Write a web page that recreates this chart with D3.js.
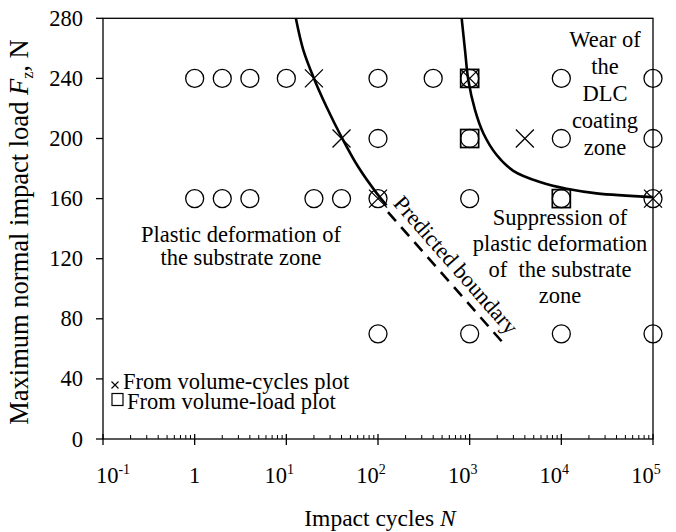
<!DOCTYPE html>
<html>
<head>
<meta charset="utf-8">
<script src="https://cdn.jsdelivr.net/npm/d3@7"></script>
<style>
  body { margin: 0; background: #fff; }
  svg { display: block; }
  text { font-family: "Liberation Serif", "Times New Roman", serif; fill: #000; }
</style>
</head>
<body>
<div id="chart"></div>
<script>
// ---- data ----
const xTickExps = [-1, 0, 1, 2, 3, 4, 5];
const yTicks = [0, 40, 80, 120, 160, 200, 240, 280];

// test points [impact cycles N, load Fz]
const circlePoints = [
  [1, 240], [2, 240], [4, 240], [10, 240], [100, 240], [400, 240], [1000, 240], [1e4, 240], [1e5, 240],
  [100, 200], [1000, 200], [1e4, 200], [1e5, 200],
  [1, 160], [2, 160], [4, 160], [20, 160], [40, 160], [100, 160], [1000, 160], [1e4, 160], [1e5, 160],
  [100, 70], [1000, 70], [1e4, 70], [1e5, 70]
];
const crossPoints = [[20, 240], [40, 200], [100, 160], [1000, 240], [4000, 200], [1e5, 160]];
const squarePoints = [[1000, 240], [1000, 200], [1e4, 160]];

// boundaries
const plasticBoundary = [[12.7, 280], [15.3, 259], [20, 240], [27.5, 221], [40, 201], [61, 181], [97, 163.5], [124, 155.5]];
const wearBoundary = [[818, 280], [889, 259], [966, 239], [1143, 219], [1409, 203.5], [1972, 189], [2992, 178.5], [5848, 171], [11430, 166.5], [24270, 163.5], [1e5, 161]];
const predictedBoundary = [[128.5, 151], [2427, 62.5]];

const plasticZone = ["Plastic deformation of", "the substrate zone"];
const wearZone = ["Wear of", "the", "DLC", "coating", "zone"];
const suppressionZone = ["Suppression of", "plastic deformation", "of  the substrate", "zone"];
const legendItems = ["From volume-cycles plot", "From volume-load plot"];

// ---- layout ----
const width = 676, height = 532;
const svg = d3.select("#chart").append("svg")
    .attr("width", width)
    .attr("height", height);

const x = d3.scaleLog().domain([0.1, 1e5]).range([103, 653]);
const y = d3.scaleLinear().domain([0, 280]).range([439, 18.3]);
const x0 = x.range()[0], x1 = x.range()[1];
const y0 = y.range()[0], y1 = y.range()[1];

// frame
svg.append("rect")
    .attr("x", x0).attr("y", y1)
    .attr("width", x1 - x0).attr("height", y0 - y1)
    .attr("fill", "none")
    .attr("stroke", "#000")
    .attr("stroke-width", 1.3);

// y ticks + labels
const yAxis = svg.append("g");
yAxis.selectAll("line")
    .data(yTicks)
    .join("line")
    .attr("x1", x0 - 7).attr("x2", x0)
    .attr("y1", d => y(d)).attr("y2", d => y(d))
    .attr("stroke", "#000").attr("stroke-width", 1.3);
yAxis.selectAll("text")
    .data(yTicks)
    .join("text")
    .attr("x", x0 - 20)
    .attr("y", d => y(d) + 7.5)
    .attr("text-anchor", "end")
    .style("font-size", "22.5px")
    .text(d => d);

// x ticks: majors cross the axis, minors inside
const minorTicks = [];
xTickExps.slice(0, -1).forEach(e => {
    for (let k = 2; k <= 9; k++) minorTicks.push(k * Math.pow(10, e));
});
const xAxis = svg.append("g");
xAxis.selectAll("line.major")
    .data(xTickExps)
    .join("line")
    .attr("class", "major")
    .attr("x1", d => x(Math.pow(10, d))).attr("x2", d => x(Math.pow(10, d)))
    .attr("y1", y0 - 5).attr("y2", y0 + 6)
    .attr("stroke", "#000").attr("stroke-width", 1.3);
xAxis.selectAll("line.minor")
    .data(minorTicks)
    .join("line")
    .attr("class", "minor")
    .attr("x1", d => x(d)).attr("x2", d => x(d))
    .attr("y1", y0 - 4).attr("y2", y0)
    .attr("stroke", "#000").attr("stroke-width", 1);

const xLabels = xAxis.selectAll("text")
    .data(xTickExps)
    .join("text")
    .attr("x", d => x(Math.pow(10, d)) + (d === 0 ? 0 : d < 0 ? 10 : -7))
    .attr("y", 483)
    .attr("text-anchor", "middle")
    .style("font-size", "22.5px");
xLabels.each(function (d) {
    const t = d3.select(this);
    if (d === 0) { t.text("1"); return; }
    t.append("tspan").text("10");
    t.append("tspan").attr("dy", -9).style("font-size", "14px").text(d);
});

// axis titles
svg.append("text")
    .attr("x", (x0 + x1) / 2 + 2)
    .attr("y", 526)
    .attr("text-anchor", "middle")
    .style("font-size", "23.5px")
    .call(t => {
        t.append("tspan").text("Impact cycles ");
        t.append("tspan").style("font-style", "italic").text("N");
    });

svg.append("text")
    .attr("transform", "translate(28,232) rotate(-90)")
    .attr("text-anchor", "middle")
    .style("font-size", "26.5px")
    .call(t => {
        t.append("tspan").text("Maximum normal impact load ");
        t.append("tspan").style("font-style", "italic").text("F");
        t.append("tspan").attr("dy", 5).style("font-size", "16px").text("z");
        t.append("tspan").attr("dy", -5).text(", N");
    });

// boundaries
const line = d3.line()
    .x(d => x(d[0]))
    .y(d => y(d[1]))
    .curve(d3.curveCatmullRom.alpha(0.5));

svg.append("path")
    .datum(plasticBoundary)
    .attr("d", line)
    .attr("fill", "none").attr("stroke", "#000").attr("stroke-width", 2.6);
svg.append("path")
    .datum(wearBoundary)
    .attr("d", line)
    .attr("fill", "none").attr("stroke", "#000").attr("stroke-width", 2.6);
svg.append("path")
    .datum(predictedBoundary)
    .attr("d", d3.line().x(d => x(d[0])).y(d => y(d[1])))
    .attr("fill", "none").attr("stroke", "#000").attr("stroke-width", 2.6)
    .attr("stroke-dasharray", "12,8");

// markers
svg.append("g")
    .selectAll("circle")
    .data(circlePoints)
    .join("circle")
    .attr("cx", d => x(d[0])).attr("cy", d => y(d[1]))
    .attr("r", 9)
    .attr("fill", "none").attr("stroke", "#000").attr("stroke-width", 1.3);

svg.append("g")
    .selectAll("rect")
    .data(squarePoints)
    .join("rect")
    .attr("x", d => x(d[0]) - 9).attr("y", d => y(d[1]) - 9)
    .attr("width", 18).attr("height", 18)
    .attr("fill", "none").attr("stroke", "#000").attr("stroke-width", 1.7);

svg.append("g")
    .selectAll("path")
    .data(crossPoints)
    .join("path")
    .attr("transform", d => `translate(${x(d[0])},${y(d[1])})`)
    .attr("d", "M-9,-9L9,9M-9,9L9,-9")
    .attr("fill", "none").attr("stroke", "#000").attr("stroke-width", 1.3);

// zone labels
function block(lines, cx, top, step) {
    svg.append("g").selectAll("text")
        .data(lines)
        .join("text")
        .attr("x", cx)
        .attr("y", (d, i) => top + i * step)
        .attr("text-anchor", "middle")
        .style("font-size", "22.5px")
        .style("white-space", "pre")
        .text(d => d);
}
block(plasticZone, 241, 242, 23);
block(wearZone, 605, 47, 27);
block(suppressionZone, 560, 225, 26);

// rotated label along the dashed line
const pa = [x(predictedBoundary[0][0]), y(predictedBoundary[0][1])];
const pb = [x(predictedBoundary[1][0]), y(predictedBoundary[1][1])];
const ang = Math.atan2(pb[1] - pa[1], pb[0] - pa[0]);
const ux = Math.cos(ang), uy = Math.sin(ang);
const mx = (pa[0] + pb[0]) / 2 - 4 * ux + 8.5 * uy;
const my = (pa[1] + pb[1]) / 2 - 4 * uy - 8.5 * ux;
svg.append("text")
    .attr("transform", `translate(${mx},${my}) rotate(${ang * 180 / Math.PI})`)
    .attr("text-anchor", "middle")
    .style("font-size", "22.5px")
    .text("Predicted boundary");

// legend
const lg = svg.append("g");
lg.append("path")
    .attr("d", "M111.5,381.5L118.5,388.5M111.5,388.5L118.5,381.5")
    .attr("stroke", "#000").attr("stroke-width", 1.1);
lg.append("rect")
    .attr("x", 112).attr("y", 393.5).attr("width", 11).attr("height", 12)
    .attr("fill", "none").attr("stroke", "#000").attr("stroke-width", 1.2);
lg.selectAll("text")
    .data(legendItems)
    .join("text")
    .attr("x", (d, i) => i === 0 ? 123 : 127)
    .attr("y", (d, i) => 389 + i * 19.5)
    .style("font-size", "22.5px")
    .text(d => d);
</script>
</body>
</html>
